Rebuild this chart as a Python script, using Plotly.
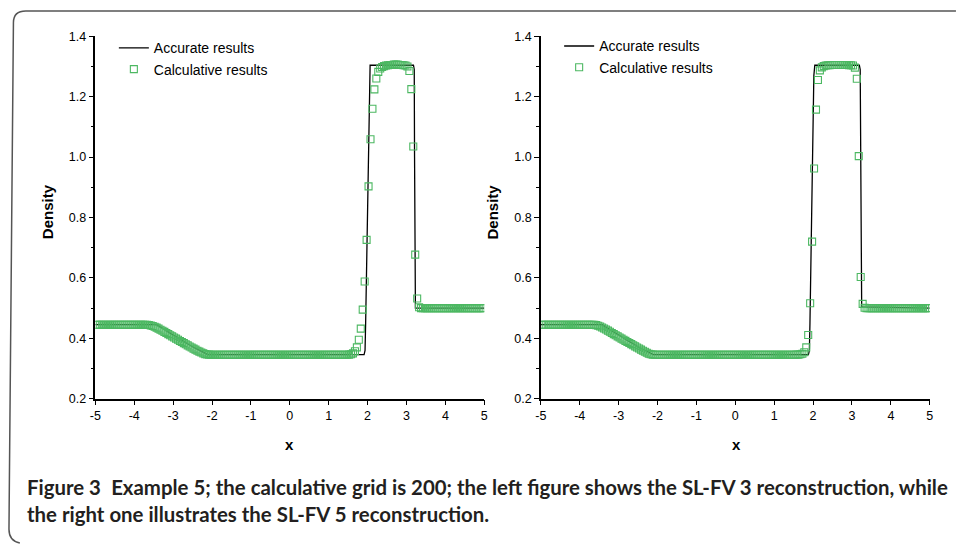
import numpy as np
import plotly.graph_objects as go

W, H = 956, 548

# ---- data -------------------------------------------------------------
# cell centres of the 200-cell grid on [-5, 5]
x_cells = np.linspace(-4.975, 4.975, 200)

# SL-FV 3 reconstruction (left)
rho_fv3 = [
    0.445, 0.445, 0.445, 0.445, 0.445, 0.445, 0.445, 0.445, 0.445, 0.445,
    0.445, 0.445, 0.445, 0.445, 0.445, 0.445, 0.445, 0.445, 0.445, 0.445,
    0.445, 0.445, 0.445, 0.445, 0.445, 0.445, 0.4445, 0.444, 0.4425, 0.441,
    0.4385, 0.4355, 0.432, 0.4285, 0.425, 0.4213, 0.4175, 0.4138, 0.410, 0.4063,
    0.4025, 0.3988, 0.395, 0.3913, 0.3877, 0.384, 0.3803, 0.3767, 0.373, 0.3695,
    0.366, 0.3625, 0.359, 0.3558, 0.3528, 0.350, 0.3478, 0.3465, 0.346, 0.3458,
    0.3458, 0.3458, 0.3458, 0.3458, 0.3458, 0.3458, 0.3458, 0.3458, 0.3458, 0.3458,
    0.3458, 0.3458, 0.3458, 0.3458, 0.3458, 0.3458, 0.3458, 0.3458, 0.3458, 0.3458,
    0.3458, 0.3458, 0.3458, 0.3458, 0.3458, 0.3458, 0.3458, 0.3458, 0.3458, 0.3458,
    0.3458, 0.3458, 0.3458, 0.3458, 0.3458, 0.3458, 0.3458, 0.3458, 0.3458, 0.3458,
    0.3458, 0.3458, 0.3458, 0.3458, 0.3458, 0.3458, 0.3458, 0.3458, 0.3458, 0.3458,
    0.3458, 0.3458, 0.3458, 0.3458, 0.3458, 0.3458, 0.3458, 0.3458, 0.3458, 0.3458,
    0.3458, 0.3458, 0.3458, 0.3458, 0.3458, 0.3458, 0.3458, 0.3458, 0.3458, 0.3458,
    0.346, 0.347, 0.350, 0.357, 0.370, 0.395, 0.432, 0.495, 0.588, 0.726,
    0.903, 1.059, 1.160, 1.224, 1.260, 1.282, 1.293, 1.298, 1.301, 1.303,
    1.304, 1.305, 1.305, 1.306, 1.306, 1.306, 1.305, 1.305, 1.304, 1.303,
    1.300, 1.285, 1.225, 1.035, 0.677, 0.532, 0.503, 0.500, 0.500, 0.500,
    0.500, 0.500, 0.500, 0.500, 0.500, 0.500, 0.500, 0.500, 0.500, 0.500,
    0.500, 0.500, 0.500, 0.500, 0.500, 0.500, 0.500, 0.500, 0.500, 0.500,
    0.500, 0.500, 0.500, 0.500, 0.500, 0.500, 0.500, 0.500, 0.500, 0.500,
]

# SL-FV 5 reconstruction (right)
rho_fv5 = [
    0.445, 0.445, 0.445, 0.445, 0.445, 0.445, 0.445, 0.445, 0.445, 0.445,
    0.445, 0.445, 0.445, 0.445, 0.445, 0.445, 0.445, 0.445, 0.445, 0.445,
    0.445, 0.445, 0.445, 0.445, 0.445, 0.445, 0.445, 0.4445, 0.4435, 0.4415,
    0.439, 0.436, 0.4325, 0.429, 0.4253, 0.4215, 0.4178, 0.414, 0.4103, 0.4065,
    0.4028, 0.399, 0.3953, 0.3916, 0.388, 0.3843, 0.3806, 0.377, 0.3733, 0.3697,
    0.3661, 0.3625, 0.359, 0.3555, 0.352, 0.349, 0.347, 0.346, 0.3458, 0.3458,
    0.3458, 0.3458, 0.3458, 0.3458, 0.3458, 0.3458, 0.3458, 0.3458, 0.3458, 0.3458,
    0.3458, 0.3458, 0.3458, 0.3458, 0.3458, 0.3458, 0.3458, 0.3458, 0.3458, 0.3458,
    0.3458, 0.3458, 0.3458, 0.3458, 0.3458, 0.3458, 0.3458, 0.3458, 0.3458, 0.3458,
    0.3458, 0.3458, 0.3458, 0.3458, 0.3458, 0.3458, 0.3458, 0.3458, 0.3458, 0.3458,
    0.3458, 0.3458, 0.3458, 0.3458, 0.3458, 0.3458, 0.3458, 0.3458, 0.3458, 0.3458,
    0.3458, 0.3458, 0.3458, 0.3458, 0.3458, 0.3458, 0.3458, 0.3458, 0.3458, 0.3458,
    0.3458, 0.3458, 0.3458, 0.3458, 0.3458, 0.3458, 0.3458, 0.3458, 0.3458, 0.3458,
    0.3458, 0.346, 0.346, 0.347, 0.349, 0.354, 0.370, 0.411, 0.516, 0.720,
    0.962, 1.157, 1.255, 1.287, 1.297, 1.301, 1.303, 1.304, 1.304, 1.305,
    1.305, 1.305, 1.305, 1.305, 1.305, 1.305, 1.305, 1.305, 1.304, 1.304,
    1.303, 1.296, 1.259, 1.003, 0.603, 0.514, 0.501, 0.500, 0.500, 0.500,
    0.500, 0.500, 0.500, 0.500, 0.500, 0.500, 0.500, 0.500, 0.500, 0.500,
    0.500, 0.500, 0.500, 0.500, 0.500, 0.500, 0.500, 0.500, 0.500, 0.500,
    0.500, 0.500, 0.500, 0.500, 0.500, 0.500, 0.500, 0.500, 0.500, 0.500,
]

# exact (accurate) solution, breakpoints of the piecewise profile
x_exact_l = [-5.0, -3.42, -3.2, -3.0, -2.75, -2.5, -2.3, -2.11, 1.91, 1.935, 1.95,
             1.99, 2.03, 2.045, 2.065, 3.18, 3.200, 3.208, 3.215, 3.23, 5.0]
y_exact_l = [0.445, 0.445, 0.427, 0.410, 0.391, 0.372, 0.358, 0.3458, 0.3458, 0.36, 0.45,
             0.75, 1.10, 1.27, 1.304, 1.304, 1.29, 1.00, 0.55, 0.50, 0.50]
x_exact_r = [-5.0, -3.42, -3.2, -3.0, -2.75, -2.5, -2.3, -2.11, 1.88, 1.905, 1.92,
             1.96, 2.00, 2.02, 2.045, 3.19, 3.212, 3.222, 3.232, 3.25, 5.0]
y_exact_r = [0.445, 0.445, 0.427, 0.410, 0.391, 0.372, 0.358, 0.3458, 0.3458, 0.36, 0.45,
             0.75, 1.10, 1.27, 1.304, 1.304, 1.29, 1.00, 0.55, 0.504, 0.50]

x_ticks = [-5, -4, -3, -2, -1, 0, 1, 2, 3, 4, 5]
y_ticks = [0.2, 0.4, 0.6, 0.8, 1.0, 1.2, 1.4]

caption_1 = ("Figure 3\u2002Example 5; the calculative grid is 200; the left figure shows "
             "the SL-FV 3 reconstruction, while")
caption_2 = "the right one illustrates the SL-FV 5 reconstruction."

# ---- styling helpers -----------------------------------------------------
GREEN = "#4cb862"
SANS = "Arial"
TICK_FONT = dict(family=SANS, size=12.5, color="black")


def px_x(p):
    return p / W


def px_y(p):
    return 1 - p / H


fig = go.Figure()

panels = [
    ("x", "y", "legend", x_exact_l, y_exact_l, rho_fv3),
    ("x2", "y2", "legend2", x_exact_r, y_exact_r, rho_fv5),
]
for xa, ya, lg, xe, ye, rho in panels:
    fig.add_trace(go.Scatter(
        x=xe, y=ye, mode="lines", name="Accurate results",
        line=dict(color="black", width=1.3),
        xaxis=xa, yaxis=ya, legend=lg,
    ))
    fig.add_trace(go.Scatter(
        x=x_cells, y=rho, mode="markers", name="Calculative results",
        marker=dict(symbol="square-open", size=7, color=GREEN,
                    line=dict(width=1.1, color=GREEN)),
        xaxis=xa, yaxis=ya, legend=lg,
    ))

xaxis_common = dict(
    range=[-5, 5], tickvals=x_ticks, ticktext=[str(v) for v in x_ticks],
    ticks="outside", ticklen=5, tickwidth=1.3, tickcolor="black",
    showline=True, linecolor="black", linewidth=1.5, mirror=False,
    showgrid=False, zeroline=False, tickfont=TICK_FONT,
)
yaxis_common = dict(
    range=[0.2, 1.4], tickvals=y_ticks, ticktext=[f"{v:.1f}" for v in y_ticks],
    ticks="outside", ticklen=5, tickwidth=1.3, tickcolor="black",
    minor=dict(dtick=0.1, tick0=0.2, ticks="outside", ticklen=3, tickwidth=1.2,
               tickcolor="black", showgrid=False),
    showline=True, linecolor="black", linewidth=1.5, mirror=False,
    showgrid=False, zeroline=False, tickfont=TICK_FONT,
)

legend_font = dict(family=SANS, size=14, color="black")
y_dom = [px_y(402), px_y(30)]
fig.update_layout(
    width=W, height=H,
    margin=dict(l=0, r=0, t=0, b=0),
    paper_bgcolor="white", plot_bgcolor="white",
    font=dict(family=SANS),
    xaxis=dict(domain=[px_x(90.3), px_x(483.3)], anchor="y", **xaxis_common),
    yaxis=dict(domain=y_dom, anchor="x", **yaxis_common),
    xaxis2=dict(domain=[px_x(540.5), px_x(933.5)], anchor="y2", **xaxis_common),
    yaxis2=dict(domain=y_dom, anchor="x2", **yaxis_common),
    legend=dict(x=px_x(109), y=px_y(26), xanchor="left", yanchor="top",
                bgcolor="rgba(0,0,0,0)", borderwidth=0, tracegroupgap=0,
                font=legend_font),
    legend2=dict(x=px_x(559), y=px_y(24), xanchor="left", yanchor="top",
                 bgcolor="rgba(0,0,0,0)", borderwidth=0, tracegroupgap=0,
                 font=legend_font),
    showlegend=True,
)

# axis titles
title_font = dict(family=SANS, size=15, color="black")
for xc, yc, txt, ang in [(42, 210, "<b>Density</b>", -90), (492, 210, "<b>Density</b>", -90),
                         (286, 449, "<b>x</b>", 0), (738, 449, "<b>x</b>", 0)]:
    fig.add_annotation(x=px_x(xc), y=px_y(yc), xref="paper", yref="paper",
                       text=txt, textangle=ang, showarrow=False,
                       xanchor="center", yanchor="middle", font=title_font)

# caption
cap_font = dict(family="Lato, sans-serif", size=20.4, color="#231f20")
fig.add_annotation(x=px_x(19), y=px_y(493), xref="paper", yref="paper",
                   text="<b>" + caption_1 + "</b>", showarrow=False,
                   xanchor="left", yanchor="middle", font=cap_font)
fig.add_annotation(x=px_x(19), y=px_y(520), xref="paper", yref="paper",
                   text="<b>" + caption_2 + "</b>", showarrow=False,
                   xanchor="left", yanchor="middle", font=cap_font)

# rounded frame around the figure
def pt(x, y):
    return f"{px_x(x):.5f},{px_y(y):.5f}"


frame = (f"M {pt(960, 4)} L {pt(20, 4)} Q {pt(7.5, 4)} {pt(7.5, 16)} "
         f"L {pt(3, 536)} Q {pt(3, 548)} {pt(14, 550)}")
fig.add_shape(type="path", path=frame, xref="paper", yref="paper",
              line=dict(color="#555555", width=1.5))

fig.write_html("out.html")
